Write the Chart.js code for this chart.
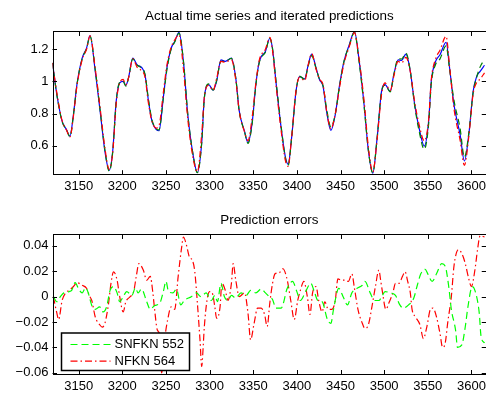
<!DOCTYPE html>
<html>
<head>
<meta charset="utf-8">
<script src="https://cdn.jsdelivr.net/npm/chart.js@4.4.0/dist/chart.umd.min.js"></script>
<style>
  html, body { margin: 0; padding: 0; background: #fff; overflow: hidden; }
  #wrap { position: relative; width: 486px; height: 394px; overflow: hidden; }
  canvas { position: absolute; left: 0; }
  #top { top: 0; }
  #bottom { top: 200px; }
</style>
</head>
<body>
<div id="wrap">
  <canvas id="top" width="490" height="200"></canvas>
  <canvas id="bottom" width="490" height="194"></canvas>
</div>
<script>
// time steps
const topT = [
  3120, 3125, 3131, 3136, 3140, 3144, 3148, 3154, 3159, 3163,
  3169, 3175, 3180, 3185, 3189, 3193, 3197, 3201, 3204, 3207,
  3212, 3217, 3222, 3226, 3230, 3234, 3239, 3242, 3247, 3251,
  3256, 3260, 3265, 3270, 3275, 3281, 3286, 3291, 3294, 3299,
  3304, 3308, 3313, 3318, 3325, 3330, 3334, 3340, 3344, 3349,
  3353, 3357, 3364, 3369, 3372, 3376, 3382, 3387, 3390, 3394,
  3399, 3403, 3409, 3413, 3417, 3422, 3426, 3430, 3434, 3439,
  3444, 3449, 3454, 3460, 3466, 3471, 3477, 3482, 3487, 3492,
  3497, 3501, 3507, 3511, 3516, 3520, 3525, 3530, 3535, 3540,
  3546, 3551, 3554, 3559, 3564, 3571, 3575, 3580, 3587, 3592,
  3597, 3602, 3606, 3610, 3615
];
const actual = [
  1.115, 0.917, 0.753, 0.700, 0.660, 0.794, 0.980, 1.144, 1.206, 1.285,
  1.062, 0.794, 0.567, 0.447, 0.567, 0.877, 0.990, 1.000, 0.975, 1.020,
  1.144, 1.103, 1.087, 1.040, 0.877, 0.753, 0.700, 0.693, 0.900, 1.080,
  1.206, 1.247, 1.305, 1.124, 0.794, 0.546, 0.433, 0.620, 0.900, 0.980,
  0.945, 1.000, 1.134, 1.124, 1.144, 1.020, 0.815, 0.690, 0.619, 0.753,
  0.980, 1.124, 1.186, 1.268, 1.206, 1.000, 0.711, 0.526, 0.485, 0.650,
  0.938, 1.030, 1.016, 1.103, 1.169, 1.083, 1.010, 0.969, 0.815, 0.695,
  0.794, 0.980, 1.124, 1.227, 1.310, 1.144, 0.856, 0.567, 0.429, 0.650,
  0.938, 0.980, 0.938, 1.040, 1.134, 1.130, 1.169, 1.062, 0.856, 0.711,
  0.598, 0.753, 1.000, 1.124, 1.165, 1.243, 1.083, 0.856, 0.670, 0.505,
  0.670, 0.938, 1.030, 1.062, 1.100
];
const snfknPred = [
  1.115, 0.915, 0.750, 0.700, 0.656, 0.790, 0.978, 1.140, 1.203, 1.280,
  1.072, 0.802, 0.575, 0.442, 0.560, 0.874, 0.994, 1.000, 0.971, 1.019,
  1.140, 1.100, 1.083, 1.044, 0.887, 0.760, 0.705, 0.698, 0.897, 1.070,
  1.200, 1.244, 1.300, 1.130, 0.797, 0.546, 0.432, 0.620, 0.897, 0.984,
  0.946, 1.004, 1.124, 1.124, 1.143, 1.021, 0.812, 0.688, 0.615, 0.748,
  0.977, 1.118, 1.183, 1.269, 1.208, 1.009, 0.720, 0.520, 0.478, 0.648,
  0.934, 1.033, 1.012, 1.095, 1.160, 1.080, 1.013, 0.973, 0.833, 0.716,
  0.797, 0.975, 1.124, 1.221, 1.304, 1.135, 0.846, 0.567, 0.432, 0.650,
  0.934, 0.976, 0.935, 1.040, 1.140, 1.139, 1.175, 1.063, 0.848, 0.693,
  0.578, 0.735, 0.985, 1.106, 1.140, 1.220, 1.075, 0.883, 0.708, 0.528,
  0.678, 0.930, 1.025, 1.090, 1.136
];
const nfknPred = [
  1.115, 0.928, 0.756, 0.698, 0.655, 0.786, 0.971, 1.135, 1.199, 1.283,
  1.078, 0.816, 0.588, 0.454, 0.557, 0.864, 0.990, 1.012, 0.979, 1.020,
  1.140, 1.087, 1.066, 1.027, 0.861, 0.750, 0.710, 0.724, 0.931, 1.098,
  1.214, 1.257, 1.289, 1.077, 0.765, 0.526, 0.438, 0.675, 0.903, 0.976,
  0.945, 1.017, 1.124, 1.119, 1.134, 1.007, 0.815, 0.687, 0.632, 0.787,
  0.989, 1.133, 1.200, 1.273, 1.196, 0.982, 0.692, 0.504, 0.472, 0.653,
  0.941, 1.025, 1.004, 1.103, 1.172, 1.075, 1.013, 0.981, 0.819, 0.705,
  0.797, 0.966, 1.111, 1.215, 1.303, 1.154, 0.881, 0.589, 0.437, 0.642,
  0.917, 0.990, 0.942, 1.030, 1.124, 1.114, 1.149, 1.059, 0.872, 0.733,
  0.630, 0.763, 1.009, 1.140, 1.194, 1.280, 1.093, 0.832, 0.635, 0.478,
  0.656, 0.923, 0.993, 1.014, 1.053
];

// prediction errors (lower plot)
const snfknT = [
  3121, 3125, 3129, 3133, 3139, 3142, 3146, 3150, 3154, 3158,
  3161, 3165, 3169, 3174, 3178, 3182, 3186, 3190, 3194, 3197,
  3201, 3205, 3211, 3215, 3218, 3222, 3228, 3232, 3237, 3243,
  3247, 3250, 3253, 3258, 3262, 3267, 3271, 3279, 3285, 3290,
  3296, 3302, 3306, 3309, 3313, 3317, 3321, 3325, 3330, 3336,
  3342, 3347, 3353, 3359, 3364, 3370, 3372, 3376, 3382, 3389,
  3395, 3400, 3404, 3410, 3416, 3420, 3424, 3429, 3435, 3439,
  3442, 3448, 3453, 3458, 3463, 3469, 3475, 3478, 3484, 3489,
  3494, 3498, 3501, 3507, 3513, 3518, 3522, 3528, 3534, 3538,
  3542, 3547, 3550, 3555, 3560, 3566, 3570, 3574, 3577, 3582,
  3584, 3589, 3593, 3596, 3601, 3604, 3609, 3611, 3615
];
const snfknErr = [
  0, -0.004, 0, 0.003, 0.004, 0.005, 0.011, 0.006, 0.003, 0.007,
  0.003, -0.007, -0.010, -0.008, -0.012, -0.008, 0.005, 0.008, 0.003, -0.004,
  0, 0.004, 0.001, 0.007, 0.003, 0.006, -0.004, -0.010, -0.007, -0.005,
  0.004, 0.012, 0.004, 0.003, 0.006, -0.0065, -0.003, 0, 0.003, 0,
  0.003, -0.003, 0.001, -0.004, 0.0105, 0, -0.003, 0.001, -0.001, 0.003,
  0.001, 0.005, 0.003, 0.006, 0.003, -0.001, -0.002, -0.009, -0.009, 0.0066,
  0.012, 0.004, -0.003, 0.004, 0.0105, 0.004, -0.003, -0.004, -0.018, -0.021,
  -0.010, 0.0066, 0, -0.0065, 0.003, 0.0066, 0.009, 0.012, 0.003, -0.003,
  -0.003, 0.001, 0.004, 0.003, 0.001, -0.0065, -0.009, -0.0065, -0.001, 0.009,
  0.018, 0.0215, 0.018, 0.012, 0.018, 0.026, 0.024, 0.008, -0.010, -0.027,
  -0.040, -0.038, -0.0235, -0.008, 0.008, 0.005, -0.013, -0.031, -0.0365
];
const nfknT = [
  3121, 3125, 3127, 3131, 3135, 3139, 3144, 3148, 3154, 3159,
  3162, 3165, 3169, 3174, 3177, 3180, 3184, 3187, 3190, 3194,
  3197, 3201, 3204, 3209, 3213, 3216, 3219, 3224, 3228, 3232,
  3235, 3237, 3240, 3243, 3245, 3249, 3252, 3256, 3260, 3264,
  3268, 3270, 3273, 3277, 3280, 3283, 3286, 3289, 3291, 3292,
  3294, 3297, 3300, 3303, 3306, 3308, 3312, 3314, 3318, 3321,
  3325, 3327, 3330, 3334, 3340, 3344, 3347, 3351, 3355, 3359,
  3363, 3366, 3369, 3372, 3375, 3380, 3384, 3389, 3393, 3397,
  3401, 3404, 3408, 3412, 3415, 3418, 3422, 3425, 3429, 3432,
  3436, 3440, 3444, 3447, 3451, 3456, 3459, 3463, 3466, 3470,
  3475, 3478, 3482, 3486, 3490, 3494, 3496, 3498, 3502, 3506,
  3510, 3513, 3517, 3521, 3524, 3527, 3530, 3532, 3536, 3541,
  3545, 3549, 3553, 3556, 3560, 3564, 3567, 3570, 3573, 3577,
  3580, 3585, 3589, 3593, 3597, 3600, 3604, 3607, 3610, 3615
];
const nfknErr = [
  0, -0.013, -0.018, -0.003, 0.003, 0.005, 0.008, 0.011, 0.009, 0.0066,
  0.001, -0.003, -0.016, -0.022, -0.024, -0.021, -0.0065, 0.0105, 0.0196, 0.013,
  0, -0.012, -0.004, 0, 0.004, 0.016, 0.026, 0.021, 0.013, 0.016,
  0.003, -0.010, -0.026, -0.031, -0.060, -0.031, -0.018, -0.008, -0.010, 0.016,
  0.039, 0.047, 0.042, 0.031, 0.029, 0.020, -0.005, -0.034, -0.055, -0.047,
  -0.0235, -0.003, 0.004, 0.003, -0.008, -0.017, -0.008, 0.0105, 0.005, -0.003,
  0.0105, 0.026, 0.013, 0, 0.003, -0.013, -0.034, -0.021, -0.009, -0.009,
  -0.014, -0.0235, -0.005, 0.010, 0.018, 0.019, 0.022, 0.013, -0.003, -0.018,
  -0.003, 0.005, 0.012, 0, -0.014, 0.003, 0.008, -0.003, -0.012, -0.004,
  -0.010, -0.010, -0.003, 0.014, 0.013, 0.013, 0.012, 0.018, 0.0066, -0.010,
  -0.021, -0.025, -0.022, -0.008, 0.008, 0.021, 0.013, 0.004, -0.010, -0.004,
  0.003, 0.0105, 0.0105, 0.016, 0.0196, 0.012, 0.003, -0.010, -0.016, -0.022,
  -0.033, -0.0235, -0.010, -0.009, -0.016, -0.029, -0.040, -0.0365, -0.0196, 0,
  0.024, 0.037, 0.034, 0.026, 0.014, 0.008, 0.021, 0.037, 0.048, 0.047
];

// tick values and labels
const xTicks = [3150, 3200, 3250, 3300, 3350, 3400, 3450, 3500, 3550, 3600];
const topYTicks = [0.6, 0.8, 1, 1.2];
const topYLabels = ['0.6', '0.8', '1', '1.2'];
const errYTicks = [-0.06, -0.04, -0.02, 0, 0.02, 0.04];
const errYLabels = ['\u22120.06', '\u22120.04', '\u22120.02', '0', '0.02', '0.04'];

const FONT = '"Liberation Sans", Arial, Helvetica, sans-serif';
Chart.defaults.font.family = FONT;
Chart.defaults.font.size = 13;
Chart.defaults.color = '#000';

const pts = (xs, ys) => xs.map((x, i) => ({ x: x, y: ys[i] }));

// matlab-like box with inward ticks on all four sides
const frame = {
  id: 'frame',
  afterDatasetsDraw(chart) {
    const { ctx, chartArea: a, scales } = chart;
    const len = 4.5;
    ctx.save();
    ctx.strokeStyle = '#000';
    ctx.lineWidth = 1;
    ctx.beginPath();
    scales.x.ticks.forEach(t => {
      const px = Math.round(scales.x.getPixelForValue(t.value)) + 0.5;
      ctx.moveTo(px, a.bottom); ctx.lineTo(px, a.bottom - len);
      ctx.moveTo(px, a.top); ctx.lineTo(px, a.top + len);
    });
    scales.y.ticks.forEach(t => {
      const py = Math.round(scales.y.getPixelForValue(t.value)) + 0.5;
      ctx.moveTo(a.left, py); ctx.lineTo(a.left + len, py);
      ctx.moveTo(a.right, py); ctx.lineTo(a.right - len, py);
    });
    ctx.stroke();
    ctx.strokeRect(Math.round(a.left) + 0.5, Math.round(a.top) + 0.5,
      Math.round(a.right - a.left), Math.round(a.bottom - a.top));
    ctx.restore();
  }
};

// boxed legend in the lower left corner of the error plot
const boxLegend = {
  id: 'boxLegend',
  afterDraw(chart) {
    const ctx = chart.ctx;
    const a = chart.chartArea;
    const bx = a.left + 9, by = a.bottom - 41.5, bw = 128, bh = 37.5;
    ctx.save();
    ctx.fillStyle = '#fff';
    ctx.fillRect(bx, by, bw, bh);
    ctx.strokeStyle = '#000';
    ctx.lineWidth = 1.5;
    ctx.strokeRect(bx, by, bw, bh);
    chart.data.datasets.forEach((ds, i) => {
      const y = by + 11.5 + i * 16.7;
      ctx.strokeStyle = ds.borderColor;
      ctx.lineWidth = ds.borderWidth;
      ctx.setLineDash(ds.borderDash);
      ctx.beginPath();
      ctx.moveTo(bx + 9, y);
      ctx.lineTo(bx + 49, y);
      ctx.stroke();
      ctx.setLineDash([]);
      ctx.fillStyle = '#000';
      ctx.font = '13px ' + FONT;
      ctx.textAlign = 'left';
      ctx.textBaseline = 'middle';
      ctx.fillText(ds.label, bx + 53, y);
    });
    ctx.restore();
  }
};

function xAxis(h) {
  return {
    type: 'linear', min: 3120, max: 3617,
    grid: { display: false, drawTicks: false },
    border: { display: false },
    afterBuildTicks: s => { s.ticks = xTicks.map(v => ({ value: v })); },
    afterFit: s => { s.height = h; },
    ticks: { padding: 4, maxRotation: 0, autoSkip: false, callback: v => String(v) }
  };
}

function yAxis(min, max, ticks, labels) {
  return {
    type: 'linear', min: min, max: max,
    grid: { display: false, drawTicks: false },
    border: { display: false },
    afterBuildTicks: s => { s.ticks = ticks.map(v => ({ value: v })); },
    afterFit: s => { s.width = 52.5; },
    ticks: { padding: 4, autoSkip: false, callback: (v, i) => labels[i] }
  };
}

function opts(title, pad, xh, ymin, ymax, yt, yl) {
  return {
    responsive: false,
    animation: false,
    devicePixelRatio: 1,
    layout: { padding: { left: 0, right: 2, top: 0, bottom: 0 } },
    elements: { point: { radius: 0 } },
    plugins: {
      legend: { display: false },
      tooltip: { enabled: false },
      title: {
        display: true, text: title, fullSize: false, color: '#000',
        font: { size: 13.4, weight: 'normal' }, padding: pad
      }
    },
    scales: { x: xAxis(xh), y: yAxis(ymin, ymax, yt, yl) }
  };
}

new Chart(document.getElementById('top'), {
  type: 'line',
  data: {
    datasets: [
      {
        label: 'NFKN 564', data: pts(topT, nfknPred), order: 0,
        borderColor: '#ff0000', borderWidth: 1.2, borderDash: [6, 3, 1.5, 3],
        cubicInterpolationMode: 'monotone'
      },
      {
        label: 'SNFKN 552', data: pts(topT, snfknPred), order: 1,
        borderColor: '#008000', borderWidth: 1.2, borderDash: [6, 4],
        cubicInterpolationMode: 'monotone'
      },
      {
        label: 'Actual', data: pts(topT, actual), order: 2,
        borderColor: '#0000ff', borderWidth: 1.2,
        cubicInterpolationMode: 'monotone'
      }
    ]
  },
  options: opts('Actual time series and iterated predictions', { top: 8.5, bottom: 6.9 },
    25.3, 0.42, 1.31, topYTicks, topYLabels),
  plugins: [frame]
});

new Chart(document.getElementById('bottom'), {
  type: 'line',
  data: {
    datasets: [
      {
        label: 'SNFKN 552', data: pts(snfknT, snfknErr),
        borderColor: '#00ff00', borderWidth: 1.2, borderDash: [7, 4],
        cubicInterpolationMode: 'monotone'
      },
      {
        label: 'NFKN 564', data: pts(nfknT, nfknErr),
        borderColor: '#ff0000', borderWidth: 1.2, borderDash: [7, 3, 1.5, 3],
        cubicInterpolationMode: 'monotone'
      }
    ]
  },
  options: opts('Prediction errors', { top: 12.3, bottom: 6.1 },
    19.5, -0.0613, 0.049, errYTicks, errYLabels),
  plugins: [frame, boxLegend]
});
</script>
</body>
</html>
